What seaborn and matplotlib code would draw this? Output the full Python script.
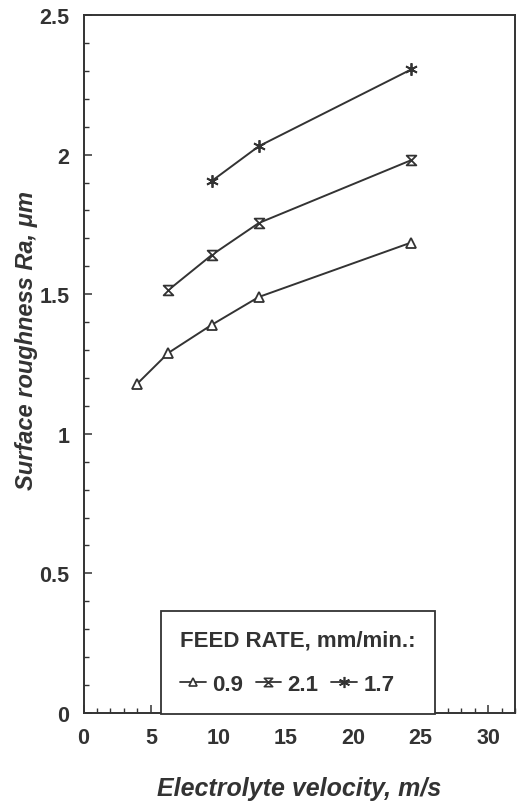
import matplotlib
matplotlib.use("Agg")
import matplotlib.pyplot as plt
import seaborn as sns
import pandas as pd
import numpy as np
from matplotlib.path import Path
from matplotlib.lines import Line2D
from matplotlib.ticker import MultipleLocator

# ---- data ----
feed_labels = ["0.9", "2.1", "1.7"]
vel_09 = [4.0, 6.3, 9.5, 13.0, 24.3]
ra_09 = [1.18, 1.29, 1.39, 1.49, 1.685]
vel_21 = [6.3, 9.5, 13.0, 24.3]
ra_21 = [1.515, 1.64, 1.755, 1.98]
vel_17 = [9.5, 13.0, 24.3]
ra_17 = [1.905, 2.03, 2.305]
x_ticks = [0, 5, 10, 15, 20, 25, 30]
y_ticks = [0, 0.5, 1, 1.5, 2, 2.5]
y_tick_labels = ["0", "0.5", "1", "1.5", "2", "2.5"]

df = pd.concat([
    pd.DataFrame({"v": vel_09, "ra": ra_09, "feed": feed_labels[0]}),
    pd.DataFrame({"v": vel_21, "ra": ra_21, "feed": feed_labels[1]}),
    pd.DataFrame({"v": vel_17, "ra": ra_17, "feed": feed_labels[2]}),
])

sns.set_theme(style="ticks")
plt.rcParams["font.family"] = ["Liberation Sans", "DejaVu Sans"]

ink = "#333333"
hourglass = Path([(-1, 1), (1, 1), (-1, -1), (1, -1), (-1, 1)],
                 [Path.MOVETO, Path.LINETO, Path.LINETO, Path.LINETO, Path.CLOSEPOLY])
marker_map = {"0.9": "^", "2.1": hourglass, "1.7": (6, 2, 0)}
msize = {"0.9": 7, "2.1": 7, "1.7": 9}

fig = plt.figure(figsize=(5.19, 8.03), dpi=100)
ax = fig.add_axes([83.5 / 519, 1 - 714 / 803, (515 - 83.5) / 519, (714 - 16) / 803])

for lab in feed_labels:
    sub = df[df["feed"] == lab]
    sns.lineplot(data=sub, x="v", y="ra", ax=ax, color=ink, linewidth=1.4,
                 marker=marker_map[lab], markersize=msize[lab],
                 markerfacecolor="white", markeredgecolor=ink, markeredgewidth=1.3,
                 legend=False)

ax.set_xlim(0, 32)
ax.set_ylim(0, 2.5)
ax.set_xticks(x_ticks)
ax.set_yticks(y_ticks)
ax.set_yticklabels(y_tick_labels)
ax.xaxis.set_minor_locator(MultipleLocator(1))
ax.yaxis.set_minor_locator(MultipleLocator(0.1))
ax.tick_params(which="both", direction="in", colors=ink, top=False, right=False)
ax.tick_params(which="major", length=6, width=1.1, labelsize=15.5, pad=10)
ax.tick_params(which="minor", length=3.5, width=1.0)
for lbl in ax.get_xticklabels() + ax.get_yticklabels():
    lbl.set_fontweight("bold")
    lbl.set_color(ink)
for s in ax.spines.values():
    s.set_color(ink)
    s.set_linewidth(1.4)

ax.set_xlabel("Electrolyte velocity, m/s", fontsize=18, fontweight="bold",
              fontstyle="italic", color=ink, labelpad=20)
ax.set_ylabel("Surface roughness Ra, μm", fontsize=17, fontweight="bold",
              fontstyle="italic", color=ink)
ax.yaxis.set_label_coords(-0.105, 0.535)

handles = [Line2D([], [], color=ink, linewidth=1.3, marker=marker_map[l],
                  markersize=msize[l] - 1, markerfacecolor="white",
                  markeredgecolor=ink, markeredgewidth=1.2) for l in feed_labels]
leg = ax.legend(handles, feed_labels, title="FEED RATE, mm/min.:", ncol=3,
                loc="lower left", bbox_to_anchor=(0.18, -0.0015),
                frameon=True, fancybox=False, framealpha=1, edgecolor=ink,
                prop={"weight": "bold", "size": 16},
                title_fontproperties={"weight": "bold", "size": 16},
                handlelength=1.15, handletextpad=0.3, columnspacing=0.55,
                borderpad=0.85, borderaxespad=0, labelspacing=1.05,
                alignment="left")
leg.get_frame().set_linewidth(1.3)
leg.set_zorder(5)
for t in leg.get_texts():
    t.set_color(ink)
leg.get_title().set_color(ink)

fig.savefig("out.png", dpi=100, facecolor="white")
